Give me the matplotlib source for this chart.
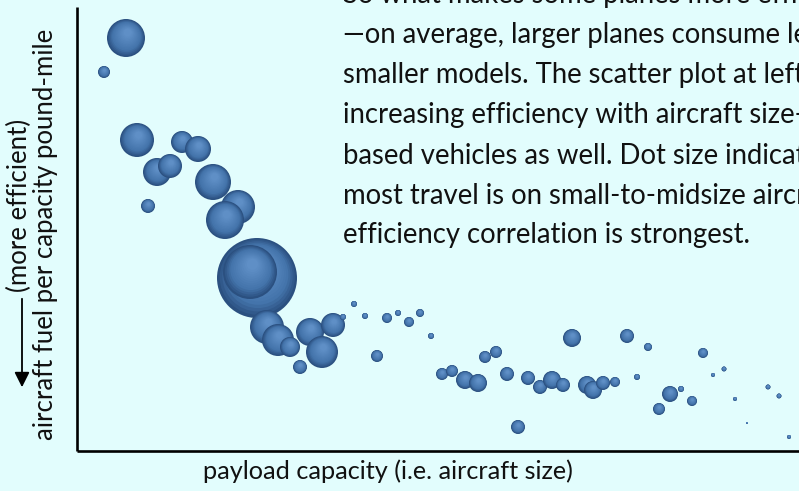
import matplotlib
matplotlib.use("Agg")
import matplotlib.pyplot as plt
import numpy as np
from matplotlib.colors import to_rgb
from matplotlib.patches import FancyArrowPatch

# ---- data (payload capacity index, fuel-per-capacity index, travel share) ----
payload = [49, 27, 60, 105, 121, 80, 93, 71, 136, 161, 148,
           180, 173, 190, 201, 213, 233, 245, 256, 223,
           266, 277, 288, 310, 321, 300, 343, 332, 354,
           495, 550, 571, 626, 408, 419, 365, 375, 388, 401,
           430, 451, 463, 475, 486, 510, 516, 526, 538, 560,
           593, 604, 615, 582, 636, 647, 658, 691, 702, 670, 712, 441]
fuel = [413, 379, 311, 309, 302, 279, 285, 245, 269, 244, 231,
        173, 179, 124, 111, 104, 119, 99, 126, 84,
        134, 147, 135, 133, 138, 95, 138, 129, 115,
        113, 115, 104, 98, 94, 99, 77, 80, 71, 68,
        77, 73, 64, 71, 66, 66, 61, 68, 69, 74,
        57, 62, 50, 42, 76, 82, 52, 64, 55, 28, 14, 24]
travel = [361, 36, 289, 121, 169, 196, 144, 49, 324, 289, 361,
          1600, 729, 289, 256, 100, 196, 256, 144, 49,
          9, 9, 9, 25, 9, 36, 16, 25, 9,
          81, 49, 16, 25, 36, 36, 36, 36, 81, 81,
          49, 49, 49, 81, 49, 81, 81, 49, 25, 9,
          64, 9, 25, 36, 4, 6, 4, 6, 6, 1, 4, 49]

paragraph = [
    "So what makes some planes more efficient than others?",
    "\u2014on average, larger planes consume less fuel per pound-mile than",
    "smaller models. The scatter plot at left shows the trend of",
    "increasing efficiency with aircraft size\u2014a trend that holds for ground-",
    "based vehicles as well. Dot size indicates share of travel;",
    "most travel is on small-to-midsize aircraft, where the size-",
    "efficiency correlation is strongest.",
]
xlabel = "payload capacity (i.e. aircraft size)"
ylabel = "aircraft fuel per capacity pound-mile"
ylabel2 = "(more efficient)"

# ---- style ----
BG = "#e2fdfd"
EDGE = np.array(to_rgb("#2b5080"))
MID = np.array(to_rgb("#4474ab"))
HIGH = np.array(to_rgb("#5f8fc6"))
FONT = "Lato"

W, H, DPI = 799, 491, 100
fig = plt.figure(figsize=(W / DPI, H / DPI), dpi=DPI, facecolor=BG)
ax_left, ax_bottom, ax_w, ax_h = 77, 40, 722, 444
ax = fig.add_axes([ax_left / W, ax_bottom / H, ax_w / W, ax_h / H])
ax.set_facecolor(BG)
ax.set_xlim(0, ax_w)
ax.set_ylim(0, ax_h)
for side in ("top", "right"):
    ax.spines[side].set_visible(False)
for side in ("left", "bottom"):
    ax.spines[side].set_linewidth(1.9)
    ax.spines[side].set_color("black")
    ax.spines[side].set_capstyle("butt")
ax.set_xticks([])
ax.set_yticks([])

# shaded bubbles: layered discs, lighter toward the top
layers = 14
px_to_pt = 72.0 / DPI
for x, y, t in zip(payload, fuel, travel):
    r = np.sqrt(t)
    for k in range(layers):
        f = 1.0 - k / layers * 0.85
        u = k / (layers - 1)
        if u < 0.3:
            c = EDGE + (MID - EDGE) * (u / 0.3)
        else:
            c = MID + (HIGH - MID) * ((u - 0.3) / 0.7)
        off = (1 - f) * r * 0.45
        ax.scatter([x + off * 0.25], [y + off * 0.8],
                   s=(2 * r * f * px_to_pt) ** 2, color=c,
                   edgecolors="none", zorder=3, clip_on=False)

# paragraph text (clipped by figure edge)
base_y = 3
for i, line in enumerate(paragraph):
    fig.text(343 / W, 1 - (base_y + 40 * i) / H, line, fontsize=19.8,
             family=FONT, color="#111111", va="baseline", ha="left")

# axis labels
fig.text(388 / W, 1 - 471 / H, xlabel, fontsize=18.2, family=FONT,
         ha="center", va="center", color="#111111")
fig.text(46 / W, 1 - 234 / H, ylabel, fontsize=18.5, family=FONT,
         rotation=90, ha="center", va="center", color="#111111")
fig.text(19 / W, 1 - 205 / H, ylabel2, fontsize=18.5, family=FONT,
         rotation=90, ha="center", va="center", color="#111111")
fig.patches.append(FancyArrowPatch(
    (22 / W, 1 - 296 / H), (22 / W, 1 - 390 / H),
    transform=fig.transFigure, arrowstyle="-|>,head_length=6,head_width=3",
    mutation_scale=1.5, linewidth=1.3, color="black"))

fig.savefig("out.png", dpi=DPI, facecolor=BG)
